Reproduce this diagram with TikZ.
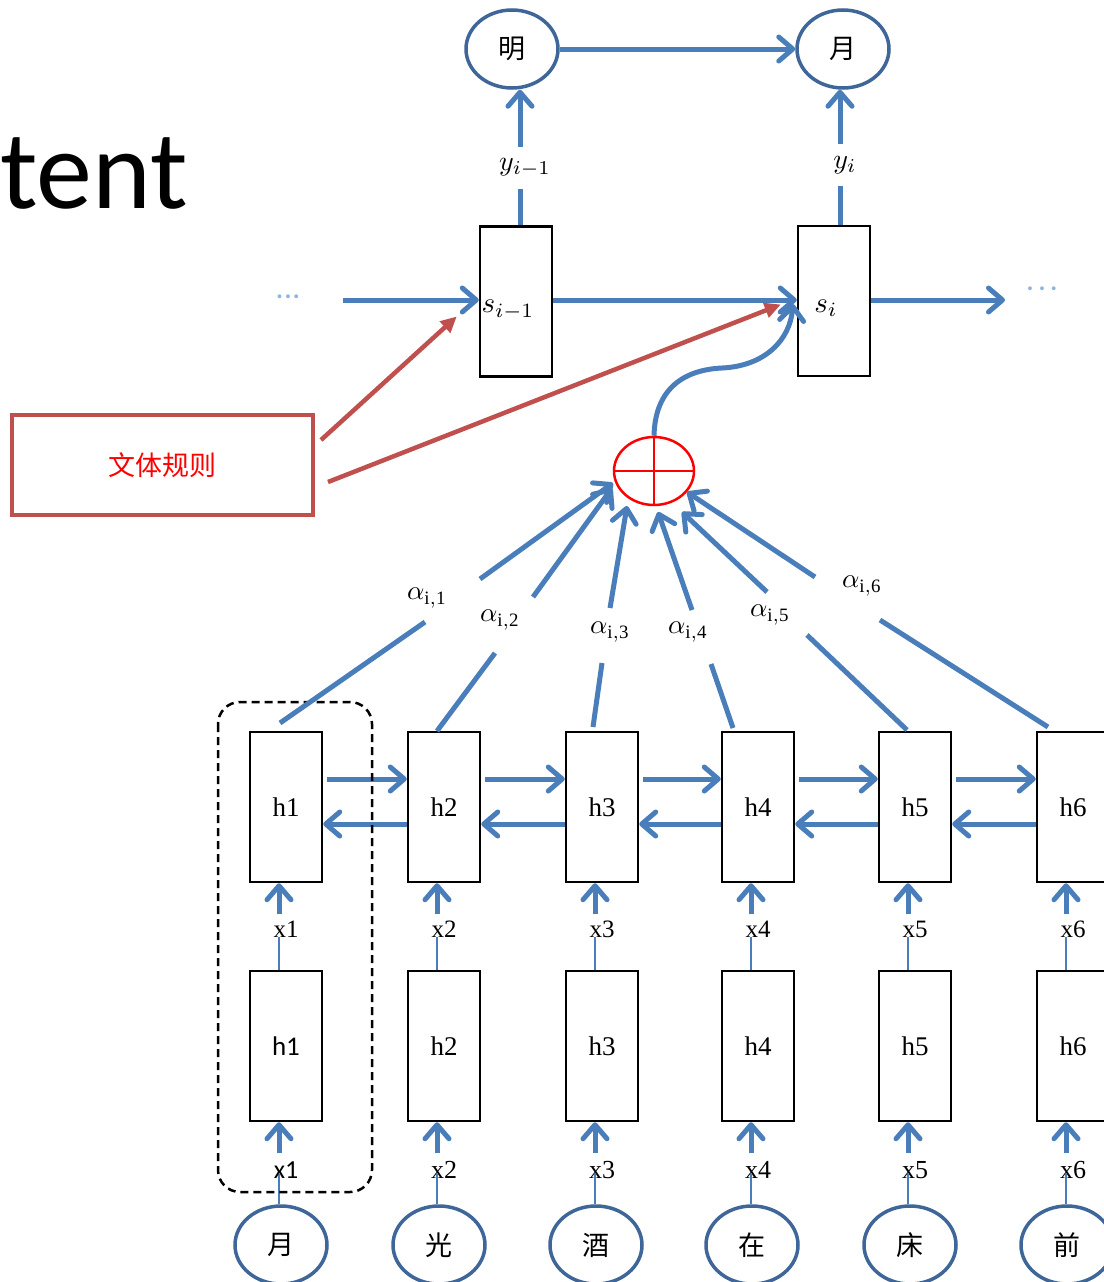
\documentclass[tikz,border=0pt]{standalone}
\usepackage{graphicx}
\usepackage{fontspec}
\setmainfont{Liberation Serif}
\newfontfamily\cjk{Noto Sans CJK SC}
\newfontfamily\calfont{Carlito}
\usetikzlibrary{arrows.meta,shapes.geometric,calc}
\definecolor{lblue}{HTML}{4A7EBB}
\definecolor{eblue}{HTML}{3F6699}
\definecolor{rred}{HTML}{C0504D}
\definecolor{dotblue}{HTML}{8EB4E3}
\newcommand{\mscaled}[2]{\scalebox{#1}{$#2$}}
\begin{document}
\begin{tikzpicture}[x=1pt,y=-1pt,
  bl/.style={draw=lblue,line width=5pt},
  barrow/.style={bl,-{Straight Barb[length=14pt,width=24pt,round]}},
  thinl/.style={draw=lblue,line width=2.5pt},
  rarrow/.style={draw=rred,line width=4.5pt,-{Triangle[length=16pt,width=15pt]}},
  hbox/.style={draw=black,line width=2.5pt,minimum width=72pt,minimum height=150pt,inner sep=0pt},
  word/.style={ellipse,draw=eblue,line width=3.5pt,minimum width=92pt,minimum height=78pt,inner sep=0pt,font=\cjk\fontsize{27}{27}\selectfont},
  hlab/.style={font=\fontsize{27}{27}\selectfont},
  xlab/.style={font=\fontsize{25}{25}\selectfont,inner sep=0pt},
  mlab/.style={inner sep=0pt},
  alab/.style={inner sep=0pt},
  dots/.style={text=dotblue,font=\calfont\bfseries\fontsize{26}{26}\selectfont,inner sep=0pt}
]
\useasboundingbox (0,0) rectangle (1103,1282);

% title fragment
\node[font=\calfont\fontsize{112}{112}\selectfont,anchor=base west,inner sep=0pt] (title) at (0,208) {tent};

% top output words
\node[word] (ming) at (512,49) {明};
\node[word] (yue) at (843,49) {月};
\draw[barrow] (ming.east) -- (yue.west);

% decoder states
\node[hbox] (sp) at (516,301.5) {};
\node[hbox] (si) at (834,301) {};
\node[mlab] (splab) at (508,310) {\mscaled{2.9}{s_{i-1}}};
\node[mlab] (silab) at (826,308) {\mscaled{2.9}{s_{i}}};

\node[mlab,minimum height=42pt] (yp) at (525,168) {\mscaled{2.8}{y_{i-1}}};
\node[mlab,minimum height=42pt] (yi) at (845,165) {\mscaled{2.8}{y_{i}}};
\draw[bl] ([xshift=4pt]sp.north) -- ([xshift=4pt]sp.north |- yp.south);
\draw[barrow] ([xshift=4pt]sp.north |- yp.north) -- ([xshift=4pt]sp.north |- ming.south);
\draw[bl] ([xshift=6pt]si.north) -- ([xshift=6pt]si.north |- yi.south);
\draw[barrow] ([xshift=6pt]si.north |- yi.north) -- ([xshift=6pt]si.north |- yue.south);

\node[dots] (dotsL) at (288,297) {.\kern1.5pt.\kern1.5pt.};
\node[dots] (dotsR) at (1042,289) {.\kern5pt.\kern5pt.};
\coordinate (inL) at (343,300);
\coordinate (outR) at (1005,300);
\draw[barrow] (inL) -- (sp.west |- inL);
\draw[barrow] (sp.east |- inL) -- (si.west |- inL);
\draw[barrow] (si.east |- inL) -- (outR);

% style rule box
\node[draw=rred,line width=4pt,minimum width=301pt,minimum height=100pt,text=red,font=\cjk\fontsize{27}{27}\selectfont] (rule) at (162.5,465) {文体规则};
\draw[rarrow] ($(rule.north east)+(6,27)$) -- ($(sp.west)+(-22,15)$);
\draw[rarrow] ($(rule.south east)+(13,-35)$) -- ($(si.west)+(-16,3.5)$);

% attention sum
\node[ellipse,draw=red,line width=2.5pt,minimum width=80pt,minimum height=68pt,inner sep=0pt] (plus) at (654,471) {};
\draw[red,line width=2.5pt] (plus.north) -- (plus.south) (plus.west) -- (plus.east);
\draw[barrow] (plus.north) .. controls (655,392) and (680,370) .. (722,368) .. controls (765,366) and (790,340) .. (793,304);

% encoder columns
\foreach \i/\cx/\wx/\wc/\hf in {1/286/281/月/\calfont,2/444/439/光/\rmfamily,3/602/596/酒/\rmfamily,4/758/752/在/\rmfamily,5/915/910/床/\rmfamily,6/1073/1067/前/\rmfamily} {
  \node[hbox,hlab] (hA\i) at (\cx,807) {h\i};
  \node[hbox,hlab,font=\hf\fontsize{27}{27}\selectfont] (hB\i) at (\cx,1046) {h\i};
  \node[xlab] (xa\i) at (\cx,929) {x\i};
  \node[word] (w\i) at (\wx,1245) {\wc};
  \draw[barrow] ($(hA\i.south)+(-7,31)$) -- ([xshift=-7pt]hA\i.south);
  \draw[thinl] ($(hB\i.north)+(-7,-33)$) -- ([xshift=-7pt]hB\i.north);
  \draw[barrow] ($(hB\i.south)+(-7,31)$) -- ([xshift=-7pt]hB\i.south);
  \draw[thinl] ([xshift=-7pt]hB\i.south |- w\i.north) -- ++(0,-30);
  \node[xlab,font=\hf\fontsize{26}{26}\selectfont] (xb\i) at (\cx,1170) {x\i};
}
\foreach \i in {1,...,5} {
  \pgfmathtruncatemacro\j{\i+1}
  \draw[barrow] ($(hA\i.east)+(4,-28)$) -- ($(hA\j.west)+(0,-28)$);
  \draw[barrow] ($(hA\j.west)+(0,17)$) -- ($(hA\i.east)+(0,17)$);
}

% dashed group
\draw[dashed,dash pattern=on 8pt off 5pt,line width=2.5pt,rounded corners=22pt] (218,702) rectangle (372,1192);

% attention weights
\coordinate (a1s) at (280,723); \coordinate (a1g) at (425,622); \coordinate (a1h) at (480,579); \coordinate (a1t) at (613,483);
\coordinate (a2s) at (437,731); \coordinate (a2g) at (495,653); \coordinate (a2h) at (533,597); \coordinate (a2t) at (612,488);
\coordinate (a3s) at (593,727); \coordinate (a3g) at (602,663); \coordinate (a3h) at (610,608); \coordinate (a3t) at (627,506);
\coordinate (a4s) at (733,728); \coordinate (a4g) at (711,664); \coordinate (a4h) at (692,610); \coordinate (a4t) at (658,512);
\coordinate (a5s) at (907,730); \coordinate (a5g) at (807,635); \coordinate (a5h) at (767,592); \coordinate (a5t) at (682,512);
\coordinate (a6s) at (1048,727); \coordinate (a6g) at (880,620); \coordinate (a6h) at (815,577); \coordinate (a6t) at (687,492);
\foreach \k in {1,...,6} {
  \draw[bl] (a\k s) -- (a\k g);
  \draw[barrow] (a\k h) -- (a\k t);
}
\node[alab] (al1) at (427,598) {\mscaled{2.7}{\alpha_{\mathrm{i,1}}}};
\node[alab] (al2) at (500,620) {\mscaled{2.7}{\alpha_{\mathrm{i,2}}}};
\node[alab] (al3) at (610,632) {\mscaled{2.7}{\alpha_{\mathrm{i,3}}}};
\node[alab] (al4) at (688,632) {\mscaled{2.7}{\alpha_{\mathrm{i,4}}}};
\node[alab] (al5) at (770,615) {\mscaled{2.7}{\alpha_{\mathrm{i,5}}}};
\node[alab] (al6) at (862,586) {\mscaled{2.7}{\alpha_{\mathrm{i,6}}}};
\end{tikzpicture}
\end{document}
